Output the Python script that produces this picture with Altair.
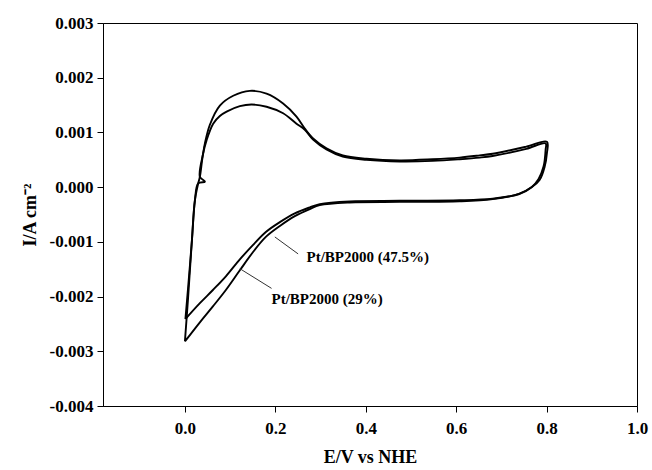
import altair as alt
import pandas as pd

# Pt/BP2000 (29%) - outer loop, path order
E29 = [0.0, 0.0066, 0.0155, 0.0221, 0.0294, 0.0442, 0.0331, 0.0404, 0.0442, 0.0552,
       0.0773, 0.1068, 0.1436, 0.1806, 0.2172, 0.2468, 0.2652, 0.2835, 0.3131, 0.3492,
       0.4015, 0.4751, 0.548, 0.6077, 0.652, 0.6807, 0.7551, 0.8007,
       0.8007, 0.7956, 0.7845, 0.769, 0.7403, 0.6807, 0.6077, 0.4751, 0.3646, 0.2983,
       0.2762, 0.2431, 0.21, 0.179, 0.1503, 0.1215, 0.0906, 0.0619, 0.0331, 0.0]
I29 = [-0.00282, -0.00207, -0.00097, -0.00024, 0.00007, 0.0001, 0.00019, 0.00062, 0.0008, 0.00114,
       0.00149, 0.00167, 0.00176, 0.00171, 0.00153, 0.00129, 0.00107, 0.00089, 0.00071, 0.00058,
       0.00052, 0.00049, 0.00051, 0.00054, 0.00058, 0.00061, 0.00074, 0.00083,
       0.00062, 0.00037, 0.00013, 0.00001, -0.00012, -0.00022, -0.00026, -0.00027, -0.00028, -0.00033,
       -0.0004, -0.00053, -0.00071, -0.00091, -0.00119, -0.00152, -0.00188, -0.00218, -0.00247, -0.00282]

# Pt/BP2000 (47.5%) - inner loop, path order
E47 = [0.0011, 0.0066, 0.0155, 0.0221, 0.0294, 0.0331, 0.0404, 0.048, 0.0625, 0.0773,
       0.0922, 0.1215, 0.1474, 0.1806, 0.2172, 0.2468, 0.2652, 0.2835, 0.3131, 0.3492,
       0.4015, 0.4751, 0.548, 0.6077, 0.652, 0.6807, 0.7551, 0.7978,
       0.7978, 0.7934, 0.7823, 0.7669, 0.7381, 0.6807, 0.6077, 0.4751, 0.3646, 0.2983,
       0.2762, 0.2431, 0.21, 0.179, 0.1503, 0.1215, 0.0906, 0.0619, 0.0331, 0.0011]
I47 = [-0.00241, -0.00188, -0.00097, -0.00024, 0.00007, 0.00019, 0.00062, 0.00086, 0.00116, 0.0013,
       0.00138, 0.00148, 0.00151, 0.00147, 0.00135, 0.00116, 0.00105, 0.00087, 0.00069, 0.00056,
       0.0005, 0.00047, 0.00048, 0.00051, 0.00054, 0.00057, 0.0007, 0.0008,
       0.00068, 0.00038, 0.00015, 0.0, -0.00013, -0.00021, -0.00024, -0.00025, -0.00026, -0.00031,
       -0.00037, -0.00048, -0.00064, -0.00082, -0.00106, -0.00132, -0.00163, -0.00188, -0.00212, -0.00241]

labels = ["Pt/BP2000 (47.5%)", "Pt/BP2000 (29%)"]
label_E = [0.269, 0.1916]
label_I = [-0.00128, -0.00205]
ptr_E1 = [0.1989, 0.1215]
ptr_I1 = [-0.00091, -0.00149]
ptr_E2 = [0.2504, 0.1916]
ptr_I2 = [-0.00122, -0.00185]

x_ticks = [0.0, 0.2, 0.4, 0.6, 0.8, 1.0]
y_ticks = [-0.004, -0.003, -0.002, -0.001, 0.0, 0.001, 0.002, 0.003]

rows = []
for i, (e, v) in enumerate(zip(E29, I29)):
    rows.append({"E": e, "I": v, "series": "29%", "order": i})
for i, (e, v) in enumerate(zip(E47, I47)):
    rows.append({"E": e, "I": v, "series": "47.5%", "order": i})
df = pd.DataFrame(rows)

ann = pd.DataFrame({"label": labels, "E": label_E, "I": label_I})
ptr = pd.DataFrame({"E1": ptr_E1, "I1": ptr_I1, "E2": ptr_E2, "I2": ptr_I2})

FONT = "Liberation Serif"

xscale = alt.Scale(domain=[-0.1812, 1.0], nice=False, zero=False)
yscale = alt.Scale(domain=[-0.004, 0.003], nice=False, zero=False)

xaxis = alt.Axis(values=x_ticks, format=".1f", title="E/V vs NHE", grid=False,
                 labelFont=FONT, labelFontSize=17, labelFontWeight="bold", labelColor="black",
                 titleFont=FONT, titleFontSize=18, titleFontWeight="bold", titleColor="black",
                 labelPadding=8, titlePadding=12, tickSize=6, domainColor="black", tickColor="black",
                 labelFlush=False)
yaxis = alt.Axis(values=y_ticks, title="I/A cm\u207b\u00b2", grid=False,
                 labelExpr="datum.value < -0.0000001 ? '-' + format(-datum.value, '.3f') : format(abs(datum.value), '.3f')",
                 labelFont=FONT, labelFontSize=17, labelFontWeight="bold", labelColor="black",
                 titleFont=FONT, titleFontSize=18, titleFontWeight="bold", titleColor="black",
                 labelPadding=4, titlePadding=10, tickSize=6, domainColor="black", tickColor="black",
                 labelFlush=False)

lines = alt.Chart(df).mark_line(color="black", strokeWidth=1.9, interpolate="catmull-rom").encode(
    x=alt.X("E:Q", scale=xscale, axis=xaxis),
    y=alt.Y("I:Q", scale=yscale, axis=yaxis),
    detail="series:N",
    order="order:Q",
)

pointers = alt.Chart(ptr).mark_rule(color="#333333", strokeWidth=1).encode(
    x="E1:Q", y="I1:Q", x2="E2:Q", y2="I2:Q"
)

texts = alt.Chart(ann).mark_text(align="left", baseline="middle", font=FONT,
                                  fontSize=15, fontWeight="bold", color="black").encode(
    x="E:Q", y="I:Q", text="label:N"
)

chart = (lines + pointers + texts).properties(
    width=534, height=383,
    autosize=alt.AutoSizeParams(type="none"),
    padding={"left": 103, "top": 23, "right": 15, "bottom": 64},
    background="white",
).configure_view(stroke="black", strokeWidth=1)

chart.save("out.html", embed_options={"renderer": "svg", "actions": False})
